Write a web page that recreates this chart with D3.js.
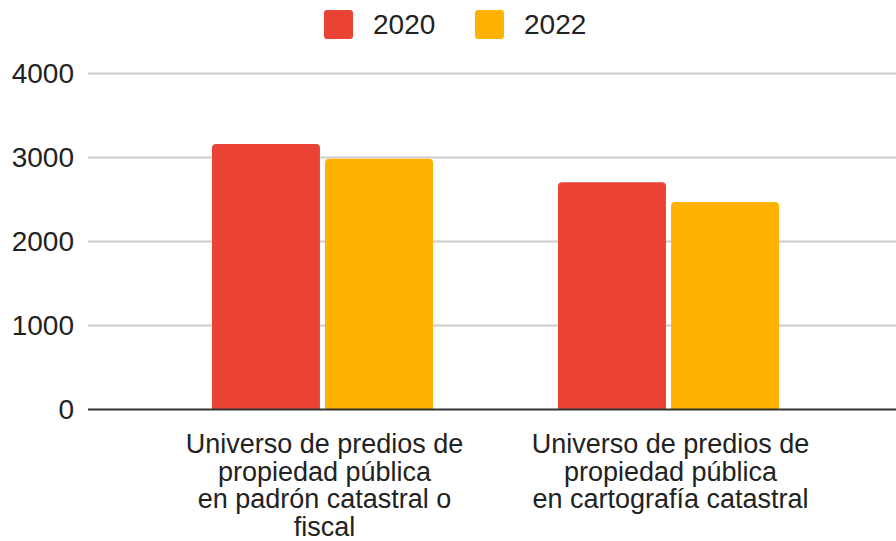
<!DOCTYPE html>
<html>
<head>
<meta charset="utf-8">
<script src="https://cdn.jsdelivr.net/npm/d3@7"></script>
<style>
  body { margin: 0; background: #fff; }
  svg { display: block; font-family: Arial, "Liberation Sans", sans-serif; }
</style>
</head>
<body>
<svg id="chart" width="896" height="541"></svg>
<script>
// data
const categories = [
  "Universo de predios de propiedad pública en padrón catastral o fiscal",
  "Universo de predios de propiedad pública en cartografía catastral"
]
const categoryLines = [
  ["Universo de predios de", "propiedad pública", "en padrón catastral o", "fiscal"],
  ["Universo de predios de", "propiedad pública", "en cartografía catastral"]
]
const seriesNames = ["2020", "2022"]
const values2020 = [3160, 2705]
const values2022 = [2985, 2470]
const yTicks = [0, 1000, 2000, 3000, 4000]
const colors = ["#ea4335", "#ffb300"]

const svg = d3.select("#chart")
const W = 896
const FS = 28

const y = d3.scaleLinear().domain([0, 4000]).range([409.5, 73.5])

const x0 = d3.scaleBand()
  .domain(categories)
  .range([149.5, 841.5])

const x1 = d3.scaleBand()
  .domain(seriesNames)
  .range([62.5, 283.5])
  .paddingInner(0.045)

// gridlines
svg.append("g")
  .selectAll("line")
  .data(yTicks.filter(d => d > 0))
  .enter()
  .append("line")
    .attr("x1", 88).attr("x2", W)
    .attr("y1", d => y(d)).attr("y2", d => y(d))
    .attr("stroke", "#cccccc")
    .attr("stroke-width", 2)

// y axis labels
const yAxis = svg.append("g")
  .attr("transform", "translate(74,0)")
  .call(d3.axisLeft(y).tickValues(yTicks).tickSize(0).tickPadding(0).tickFormat(d3.format("d")))
yAxis.select(".domain").remove()
yAxis.selectAll("text")
  .attr("font-size", FS)
  .attr("font-family", "Arial, 'Liberation Sans', sans-serif")
  .attr("fill", "#222")

// bars, rounded top corners
function barPath(x, yTop, w, yBase, r) {
  return `M${x},${yBase} L${x},${yTop + r} Q${x},${yTop} ${x + r},${yTop} ` +
    `L${x + w - r},${yTop} Q${x + w},${yTop} ${x + w},${yTop + r} L${x + w},${yBase} Z`
}

const barData = []
categories.forEach((c, i) => {
  barData.push({ cat: c, series: "2020", value: values2020[i], color: colors[0] })
  barData.push({ cat: c, series: "2022", value: values2022[i], color: colors[1] })
})

svg.append("g")
  .selectAll("path")
  .data(barData)
  .enter()
  .append("path")
    .attr("d", d => barPath(x0(d.cat) + x1(d.series), y(d.value), x1.bandwidth(), y(0), 4))
    .attr("fill", d => d.color)

// zero line
svg.append("line")
  .attr("x1", 88).attr("x2", W)
  .attr("y1", y(0)).attr("y2", y(0))
  .attr("stroke", "#333")
  .attr("stroke-width", 2)

// category labels (tight line spacing as in the reference)
const xAxis = svg.append("g")
  .attr("transform", `translate(0, ${y(0)})`)
  .call(d3.axisBottom(x0).tickSize(0).tickFormat(""))
xAxis.select(".domain").remove()

xAxis.selectAll(".tick").each(function(d, i) {
  const t = d3.select(this).append("text")
    .attr("text-anchor", "middle")
    .attr("font-size", 27)
    .attr("font-family", "Arial, 'Liberation Sans', sans-serif")
    .attr("fill", "#222")
  categoryLines[i].forEach((line, j) => {
    t.append("tspan")
      .attr("x", 2)
      .attr("y", 43.5 + j * 27.5)
      .text(line)
  })
})

// legend
const legend = svg.append("g")
const legendX = [324, 475]
seriesNames.forEach((s, i) => {
  legend.append("rect")
    .attr("x", legendX[i]).attr("y", 10)
    .attr("width", 29).attr("height", 29)
    .attr("rx", 3)
    .attr("fill", colors[i])
  legend.append("text")
    .attr("x", legendX[i] + 49).attr("y", 34)
    .attr("font-size", FS)
    .attr("fill", "#222")
    .text(s)
})
</script>
</body>
</html>
